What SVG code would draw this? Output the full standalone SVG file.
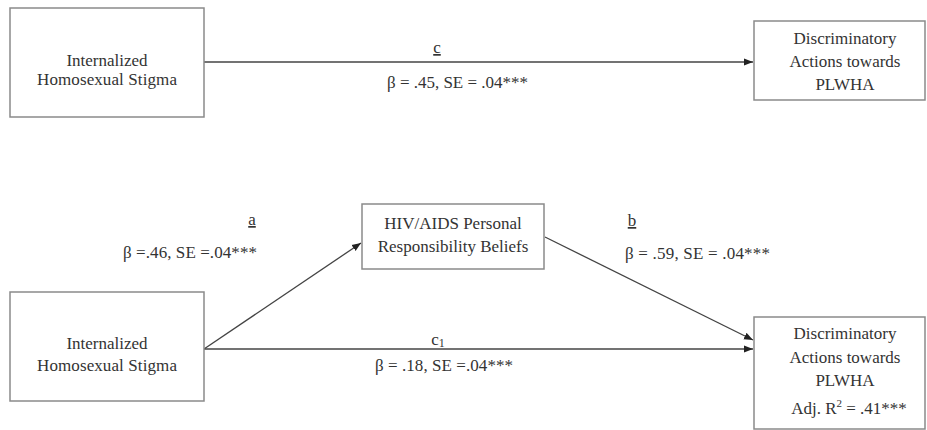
<svg xmlns="http://www.w3.org/2000/svg" width="927" height="430" viewBox="0 0 927 430">
<defs>
<style>
.box{fill:#fff;stroke:#8a8a8a;stroke-width:1.5}
.t{font-family:"Liberation Serif","Times New Roman",serif;font-size:17px;fill:#333;text-anchor:middle}
.s{font-family:"Liberation Serif","Times New Roman",serif;font-size:17px;fill:#333}
.ln{stroke:#444;stroke-width:1.3;fill:none}
</style>
<marker id="ah" viewBox="0 0 10 10" refX="10" refY="5" markerWidth="9" markerHeight="9" markerUnits="userSpaceOnUse" orient="auto">
<path d="M0,1 L10,5 L0,9 Z" fill="#222"/>
</marker>
</defs>
<rect width="927" height="430" fill="#fff"/>
<g id="connectors">
<line class="ln" x1="204" y1="62" x2="753" y2="62" marker-end="url(#ah)"/>
<line class="ln" x1="204" y1="349" x2="361" y2="243" marker-end="url(#ah)"/>
<line class="ln" x1="545" y1="237" x2="753" y2="340" marker-end="url(#ah)"/>
<line class="ln" x1="204" y1="349" x2="753" y2="349" marker-end="url(#ah)"/>
</g>
<g id="labels">
<text class="t" x="437" y="53" text-decoration="underline">c</text>
<text class="s" x="387" y="88" textLength="141" lengthAdjust="spacing">β = .45, SE = .04***</text>
<text class="t" x="252" y="225" text-decoration="underline">a</text>
<text class="s" x="123" y="258" textLength="134" lengthAdjust="spacing">β =.46, SE =.04***</text>
<text class="t" x="632" y="226" text-decoration="underline">b</text>
<text class="s" x="625" y="259" textLength="145" lengthAdjust="spacing">β = .59, SE = .04***</text>
<text class="t" x="438" y="345">c<tspan font-size="12" dy="2">1</tspan></text>
<text class="s" x="375" y="371" textLength="138" lengthAdjust="spacing">β = .18, SE =.04***</text>
</g>
<g id="node-ihs-top">
<rect class="box" x="10" y="8" width="194" height="109"/>
<text class="t" x="107" y="66">Internalized</text>
<text class="t" x="107" y="85" textLength="140" lengthAdjust="spacing">Homosexual  Stigma</text>
</g>
<g id="node-dap-top">
<rect class="box" x="754" y="21" width="171" height="79"/>
<text class="t" x="845" y="44">Discriminatory</text>
<text class="t" x="845" y="67">Actions towards</text>
<text class="t" x="845" y="90">PLWHA</text>
</g>
<g id="node-hiv">
<rect class="box" x="362" y="204" width="182" height="65"/>
<text class="t" x="453" y="229">HIV/AIDS Personal</text>
<text class="t" x="453" y="252">Responsibility Beliefs</text>
</g>
<g id="node-ihs-bottom">
<rect class="box" x="10" y="292" width="194" height="109"/>
<text class="t" x="107" y="349">Internalized</text>
<text class="t" x="107" y="371" textLength="140" lengthAdjust="spacing">Homosexual  Stigma</text>
</g>
<g id="node-dap-bottom">
<rect class="box" x="754" y="317" width="171" height="112"/>
<text class="t" x="845" y="339">Discriminatory</text>
<text class="t" x="845" y="363">Actions towards</text>
<text class="t" x="845" y="386">PLWHA</text>
<text class="t" x="849" y="414">Adj. R<tspan font-size="11" dy="-7">2</tspan><tspan dy="7"> = .41***</tspan></text>
</g>
</svg>
